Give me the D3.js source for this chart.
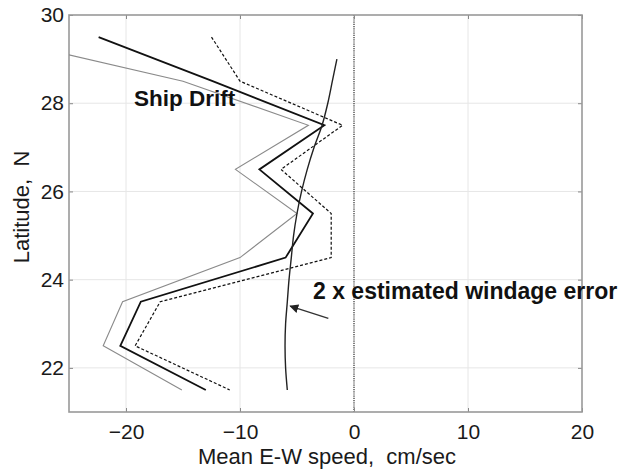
<!DOCTYPE html>
<html>
<head>
<meta charset="utf-8">
<script src="https://cdn.jsdelivr.net/npm/d3@7"></script>
<style>
  html, body { margin: 0; padding: 0; background: #fff; }
  svg { display: block; font-family: "Liberation Sans", Arial, Helvetica, sans-serif; }
</style>
</head>
<body>
<svg id="chart" width="628" height="472"></svg>
<script>
// ---- data ----
const latitudes   = [29.5, 28.5, 27.5, 26.5, 25.5, 24.5, 23.5, 22.5, 21.5];
const shipDriftSolid  = [-22.4, -12.4, -2.6, -8.3, -3.6, -6.0, -18.7, -20.5, -13.0];
const shipDriftDashed = [-12.5, -10.0, -1.0, -6.4, -2.0, -2.0, -17.0, -19.2, -10.9];
const shipDriftGray   = [-31.8, -15.0, -4.0, -10.4, -5.0, -10.0, -20.3, -22.0, -15.1];

const windageLat = [29.0, 28.5, 28.0, 27.5, 27.0, 26.5, 26.0, 25.5, 25.0, 24.5, 24.0, 23.5, 23.0, 22.5, 22.0, 21.5];
const windageVal = [-1.5, -1.9, -2.3, -2.8, -3.5, -4.1, -4.6, -5.0, -5.3, -5.5, -5.7, -5.85, -6.0, -6.05, -6.0, -5.85];

const xTicks = [-20, -10, 0, 10, 20];
const yTicks = [22, 24, 26, 28, 30];
const xDomain = [-25, 20];
const yDomain = [21, 30];

// ---- layout ----
const svg = d3.select("#chart");
const M = { left: 69, right: 582, top: 15, bottom: 412 };
const x = d3.scaleLinear().domain(xDomain).range([M.left, M.right]);
const y = d3.scaleLinear().domain(yDomain).range([M.bottom, M.top]);

svg.append("defs").append("clipPath").attr("id", "clip")
  .append("rect").attr("x", M.left).attr("y", M.top)
  .attr("width", M.right - M.left).attr("height", M.bottom - M.top);

// grid
const grid = svg.append("g").attr("stroke", "#e6e6e6").attr("stroke-width", 1);
xTicks.filter(t => t !== 0 && t > xDomain[0] && t < xDomain[1]).forEach(t => {
  grid.append("line").attr("x1", x(t)).attr("x2", x(t)).attr("y1", M.top).attr("y2", M.bottom);
});
yTicks.filter(t => t > yDomain[0] && t < yDomain[1]).forEach(t => {
  grid.append("line").attr("x1", M.left).attr("x2", M.right).attr("y1", y(t)).attr("y2", y(t));
});

// zero line (dotted)
svg.append("line")
  .attr("x1", x(0)).attr("x2", x(0)).attr("y1", M.top).attr("y2", M.bottom)
  .attr("stroke", "#555").attr("stroke-width", 1.5).attr("stroke-dasharray", "1.2,1");

// axes
const axisColor = "#999";
const xAxisB = svg.append("g").attr("transform", `translate(0,${M.bottom})`)
  .call(d3.axisBottom(x).tickValues(xTicks).tickSize(-4).tickPadding(10).tickFormat(d3.format("d")));
const xAxisT = svg.append("g").attr("transform", `translate(0,${M.top})`)
  .call(d3.axisTop(x).tickValues(xTicks).tickSize(-4).tickFormat(""));
const yAxisL = svg.append("g").attr("transform", `translate(${M.left},0)`)
  .call(d3.axisLeft(y).tickValues(yTicks).tickSize(-4).tickPadding(6).tickFormat(d3.format("d")));
const yAxisR = svg.append("g").attr("transform", `translate(${M.right},0)`)
  .call(d3.axisRight(y).tickValues(yTicks).tickSize(-4).tickFormat(""));

[xAxisB, xAxisT, yAxisL, yAxisR].forEach(g => {
  g.select(".domain").remove();
  g.selectAll(".tick line").attr("stroke", "#888").attr("stroke-width", 1);
  g.selectAll("text").attr("fill", "#1a1a1a").style("font-size", "21px")
   .style("font-family", "\"Liberation Sans\", Arial, Helvetica, sans-serif");
});
xAxisB.selectAll("text").attr("dy", "0.71em").attr("y", 12);
yAxisL.selectAll("text").attr("x", -5);

// box
svg.append("rect")
  .attr("x", M.left).attr("y", M.top)
  .attr("width", M.right - M.left).attr("height", M.bottom - M.top)
  .attr("fill", "none").attr("stroke", axisColor).attr("stroke-width", 1.6);

// lines
const plot = svg.append("g").attr("clip-path", "url(#clip)");
const lineGen = d3.line().x(d => x(d[0])).y(d => y(d[1]));

plot.append("path")
  .datum(shipDriftGray.map((v, i) => [v, latitudes[i]]))
  .attr("d", lineGen).attr("fill", "none")
  .attr("stroke", "#8a8a8a").attr("stroke-width", 1.1);

plot.append("path")
  .datum(shipDriftDashed.map((v, i) => [v, latitudes[i]]))
  .attr("d", lineGen).attr("fill", "none")
  .attr("stroke", "#111").attr("stroke-width", 1.2).attr("stroke-dasharray", "3,2");

plot.append("path")
  .datum(shipDriftSolid.map((v, i) => [v, latitudes[i]]))
  .attr("d", lineGen).attr("fill", "none")
  .attr("stroke", "#111").attr("stroke-width", 1.8);

plot.append("path")
  .datum(windageVal.map((v, i) => [v, windageLat[i]]))
  .attr("d", d3.line().x(d => x(d[0])).y(d => y(d[1])).curve(d3.curveCatmullRom))
  .attr("fill", "none").attr("stroke", "#222").attr("stroke-width", 1.4);

// annotations
svg.append("text")
  .attr("x", 134).attr("y", 106)
  .attr("font-weight", "bold").attr("font-size", 22.5).attr("fill", "#111")
  .text("Ship Drift");

svg.append("text")
  .attr("x", 313).attr("y", 299)
  .attr("font-weight", "bold").attr("font-size", 23).attr("fill", "#111")
  .text("2 x estimated windage error");

// arrow
svg.append("defs").append("marker")
  .attr("id", "arrowhead").attr("viewBox", "0 0 10 10")
  .attr("refX", 9).attr("refY", 5)
  .attr("markerWidth", 9).attr("markerHeight", 9)
  .attr("markerUnits", "userSpaceOnUse")
  .attr("orient", "auto")
  .append("path").attr("d", "M0,0 L10,5 L0,10 z").attr("fill", "#222");

svg.append("line")
  .attr("x1", x(-2.25)).attr("y1", y(23.12))
  .attr("x2", x(-5.6)).attr("y2", y(23.4))
  .attr("stroke", "#333").attr("stroke-width", 1.3)
  .attr("marker-end", "url(#arrowhead)");

// axis titles
svg.append("text")
  .attr("x", 327).attr("y", 464)
  .attr("text-anchor", "middle").attr("font-size", 22).attr("fill", "#1a1a1a")
  .style("white-space", "pre")
  .text("Mean E-W speed,  cm/sec");

svg.append("text")
  .attr("transform", "translate(29,207) rotate(-90)")
  .attr("text-anchor", "middle").attr("font-size", 22).attr("fill", "#1a1a1a")
  .style("white-space", "pre")
  .text("Latitude,  N");
</script>
</body>
</html>
